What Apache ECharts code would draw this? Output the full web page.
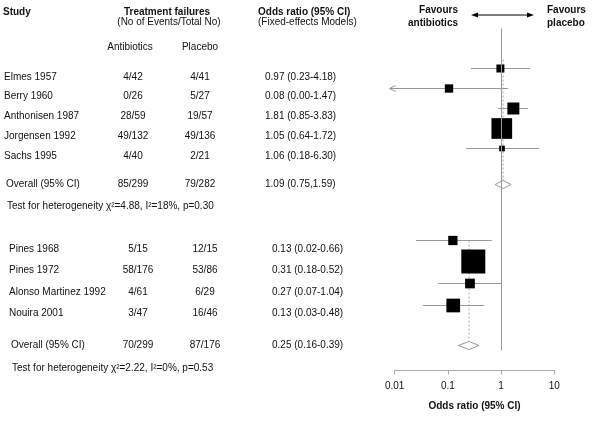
<!DOCTYPE html>
<html>
<head>
<meta charset="utf-8">
<script src="https://cdn.jsdelivr.net/npm/echarts@6/dist/echarts.min.js"></script>
<style>html,body{margin:0;padding:0;background:#fff}#main{width:600px;height:425px}</style>
</head>
<body>
<div id="main"></div>
<script>
// trials group 1
var studies1 = ['Elmes 1957', 'Berry 1960', 'Anthonisen 1987', 'Jorgensen 1992', 'Sachs 1995'];
var abx1 = ['4/42', '0/26', '28/59', '49/132', '4/40'];
var pla1 = ['4/41', '5/27', '19/57', '49/136', '2/21'];
var orText1 = ['0.97 (0.23-4.18)', '0.08 (0.00-1.47)', '1.81 (0.85-3.83)', '1.05 (0.64-1.72)', '1.06 (0.18-6.30)'];
var or1 = [0.97, 0.105, 1.7, 1.03, 1.04];
var lo1 = [0.27, 0.008, 0.88, 0.75, 0.22];
var hi1 = [3.5, 1.35, 3.2, 1.4, 5.2];
var weight1 = [7.1, 7.7, 16, 47.6, 3.6];
var row1 = [0, 1, 2, 3, 4];

// trials group 2
var studies2 = ['Pines 1968', 'Pines 1972', 'Alonso Martinez 1992', 'Nouira 2001'];
var abx2 = ['5/15', '58/176', '4/61', '3/47'];
var pla2 = ['12/15', '53/86', '6/29', '16/46'];
var orText2 = ['0.13 (0.02-0.66)', '0.31 (0.18-0.52)', '0.27 (0.07-1.04)', '0.13 (0.03-0.48)'];
var or2 = [0.124, 0.30, 0.26, 0.126];
var lo2 = [0.025, 0.2, 0.066, 0.034];
var hi2 = [0.67, 0.45, 1.03, 0.48];
var weight2 = [9.6, 64, 10.5, 20.9];
var row2 = [8.6, 9.65, 10.75, 11.85];

// pooled results
var overallAbx = ['85/299', '70/299'];
var overallPla = ['79/282', '87/176'];
var overallText = ['1.09 (0.75,1.59)', '0.25 (0.16-0.39)'];
var overallOr = [1.09, 0.25];
var overallLo = [0.77, 0.156];
var overallHi = [1.54, 0.386];
var overallRow = [5.8, 13.85];
var overallTop = [-0.45, 8.6];
var hetero = ['Test for heterogeneity \u03c7\u00b2=4.88, I\u00b2=18%, p=0.30',
              'Test for heterogeneity \u03c7\u00b2=2.22, I\u00b2=0%, p=0.53'];

var xMin = 0.01;
var FONT = "'Liberation Sans', Arial, sans-serif";

var myChart = echarts.init(document.getElementById('main'));

function txt(s, x, y, align, bold) {
    return {
        type: 'text', x: x, y: y, silent: true,
        style: {
            text: s, fill: '#111',
            font: (bold ? 'bold ' : '') + '10px ' + FONT,
            align: align || 'left', verticalAlign: 'middle',
            textAlign: align || 'left', textVerticalAlign: 'middle'
        }
    };
}

var graphics = [
    txt('Study', 3, 12, 'left', true),
    txt('Treatment failures', 167, 12, 'center', true),
    txt('(No of Events/Total No)', 169, 22, 'center'),
    txt('Odds ratio (95% CI)', 258, 12, 'left', true),
    txt('(Fixed-effects Models)', 258, 22, 'left'),
    txt('Antibiotics', 130, 47, 'center'),
    txt('Placebo', 200, 47, 'center'),
    txt('Favours', 458, 10, 'right', true),
    txt('antibiotics', 458, 23, 'right', true),
    txt('Favours', 547, 10, 'left', true),
    txt('placebo', 547, 23, 'left', true),
    {type: 'line', silent: true, shape: {x1: 474, y1: 15, x2: 531, y2: 15}, style: {stroke: '#000', lineWidth: 1}},
    {type: 'polygon', silent: true, shape: {points: [[471, 15], [478, 12.5], [478, 17.5]]}, style: {fill: '#000'}},
    {type: 'polygon', silent: true, shape: {points: [[534, 15], [527, 12.5], [527, 17.5]]}, style: {fill: '#000'}}
];

// table text, one block per group
var blocks = [
    {names: studies1, abx: abx1, pla: pla1, ors: orText1, top: 77, step: 19.7, ovY: 184, testY: 206, nx: 4, ax: 133, px: 200, ox: 265},
    {names: studies2, abx: abx2, pla: pla2, ors: orText2, top: 249, step: 21.4, ovY: 345, testY: 368, nx: 9, ax: 138, px: 205, ox: 272}
];
blocks.forEach(function (b, g) {
    b.names.forEach(function (n, i) {
        var y = b.top + b.step * i;
        graphics.push(txt(n, b.nx, y, 'left'));
        graphics.push(txt(b.abx[i], b.ax, y, 'center'));
        graphics.push(txt(b.pla[i], b.px, y, 'center'));
        graphics.push(txt(b.ors[i], b.ox, y, 'left'));
    });
    graphics.push(txt('Overall (95% CI)', b.nx + 2, b.ovY, 'left'));
    graphics.push(txt(overallAbx[g], b.ax, b.ovY, 'center'));
    graphics.push(txt(overallPla[g], b.px, b.ovY, 'center'));
    graphics.push(txt(overallText[g], b.ox, b.ovY, 'left'));
    graphics.push(txt(hetero[g], b.nx + 3, b.testY, 'left'));
});

var studyData = [];
[[or1, lo1, hi1, row1, weight1], [or2, lo2, hi2, row2, weight2]].forEach(function (s) {
    s[0].forEach(function (v, i) {
        studyData.push([v, s[1][i], s[2][i], s[3][i], s[4][i]]);
    });
});
var pooledData = overallOr.map(function (v, i) {
    return [v, overallLo[i], overallHi[i], overallRow[i], overallTop[i]];
});

function renderStudy(params, api) {
    var y = api.value(3);
    var c = api.coord([api.value(0), y]);
    var l = api.coord([api.value(1), y]);
    var h = api.coord([api.value(2), y]);
    var s = 3 * Math.sqrt(api.value(4));
    var children = [
        {type: 'line', shape: {x1: l[0], y1: c[1], x2: h[0], y2: c[1]}, style: {stroke: '#999', lineWidth: 1}},
        {type: 'rect', shape: {x: c[0] - s / 2, y: c[1] - s / 2, width: s, height: s}, style: {fill: '#000'}}
    ];
    if (api.value(1) < xMin) {
        children.push({
            type: 'polyline',
            shape: {points: [[l[0] + 6, c[1] - 3], [l[0], c[1]], [l[0] + 6, c[1] + 3]]},
            style: {stroke: '#999', lineWidth: 1, fill: null}
        });
    }
    return {type: 'group', children: children};
}

function renderPooled(params, api) {
    var y = api.value(3);
    var c = api.coord([api.value(0), y]);
    var l = api.coord([api.value(1), y]);
    var h = api.coord([api.value(2), y]);
    var t = api.coord([api.value(0), api.value(4)]);
    var d = 4;
    return {
        type: 'group',
        children: [
            {type: 'line', shape: {x1: c[0], y1: t[1], x2: c[0], y2: c[1] - d}, style: {stroke: '#aaa', lineWidth: 1, lineDash: [2, 2]}},
            {type: 'polygon', shape: {points: [[l[0], c[1]], [c[0], c[1] - d], [h[0], c[1]], [c[0], c[1] + d]]}, style: {fill: '#fff', stroke: '#999', lineWidth: 1}}
        ]
    };
}

myChart.setOption({
    animation: false,
    graphic: graphics,
    grid: {left: 394.7, right: 45.7, top: 28.5, bottom: 74.5},
    xAxis: {
        type: 'log',
        logBase: 10,
        min: 0.01,
        max: 10,
        offset: 20,
        axisLine: {onZero: false, lineStyle: {color: '#aaa', width: 1}},
        axisTick: {length: 4, lineStyle: {color: '#aaa'}},
        splitLine: {show: false},
        axisLabel: {
            color: '#111', fontSize: 10, fontFamily: FONT, margin: 11,
            formatter: function (v) { return String(+(+v).toPrecision(3)); }
        },
        name: 'Odds ratio (95% CI)',
        nameLocation: 'middle',
        nameGap: 31,
        nameTextStyle: {color: '#111', fontSize: 10, fontWeight: 'bold', fontFamily: FONT}
    },
    yAxis: {type: 'value', min: -2, max: 14.1, inverse: true, show: false, splitLine: {show: false}},
    series: [
        {
            type: 'line', data: [], z: 1, silent: true,
            markLine: {
                silent: true, symbol: 'none', label: {show: false},
                lineStyle: {color: '#999', type: 'solid', width: 1},
                data: [{xAxis: 1}]
            }
        },
        {type: 'custom', z: 2, silent: true, renderItem: renderPooled, encode: {x: [0, 1, 2], y: 3}, data: pooledData},
        {type: 'custom', z: 3, silent: true, renderItem: renderStudy, encode: {x: [0, 1, 2], y: 3}, data: studyData}
    ]
});
</script>
</body>
</html>
